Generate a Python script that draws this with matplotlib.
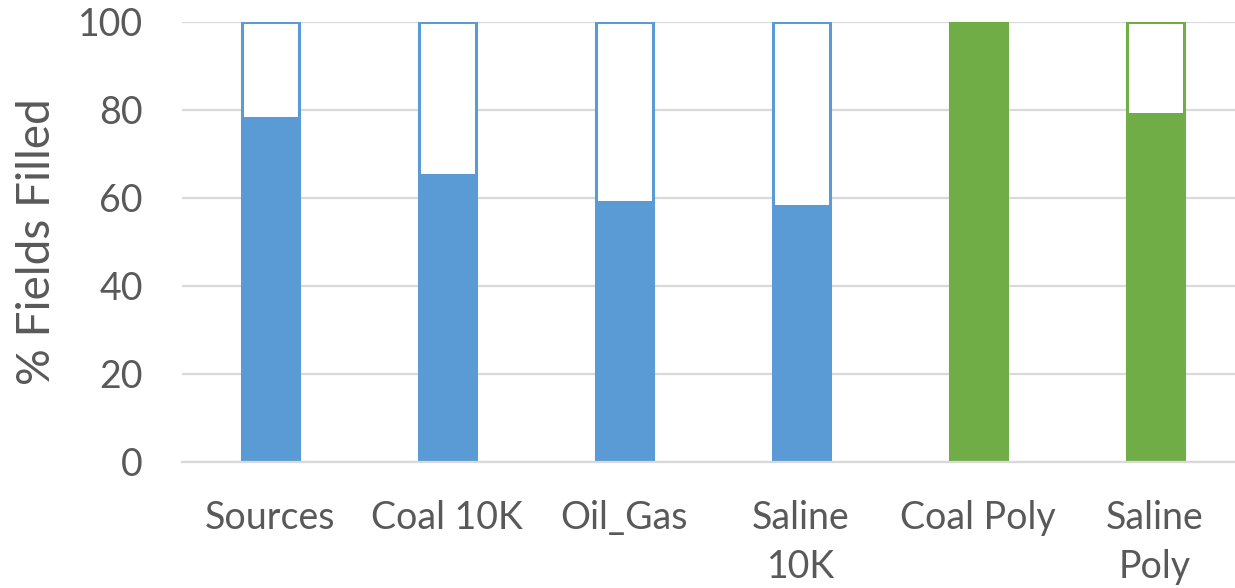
import matplotlib
matplotlib.use("Agg")
import matplotlib.pyplot as plt
import numpy as np

categories = ["Sources", "Coal 10K", "Oil_Gas", "Saline\n10K", "Coal Poly", "Saline\nPoly"]
filled = [78.4, 65.4, 59.4, 58.4, 100.0, 79.4]
capacity = [100, 100, 100, 100, 100, 100]
bar_colors = ["#5B9BD5", "#5B9BD5", "#5B9BD5", "#5B9BD5", "#70AD47", "#70AD47"]
yticks = [0, 20, 40, 60, 80, 100]

plt.rcParams["font.family"] = ["Lato", "DejaVu Sans"]
text_color = "#595959"

fig = plt.figure(figsize=(12.35, 5.88), dpi=100)
ax = fig.add_axes([0.147, 0.2143, 0.8599, 0.7483])

x = np.arange(len(categories))
width = 0.322

# Outline of full capacity, then the filled share
ax.bar(x, capacity, width=width, facecolor="white", edgecolor=bar_colors,
       linewidth=2.2, zorder=2)
ax.bar(x, filled, width=width + 0.008, color=bar_colors, linewidth=0, zorder=3)

ax.set_ylim(0, 100)
ax.set_xlim(-0.5, len(categories) - 0.5)
ax.set_yticks(yticks)
ax.set_xticks(x)
ax.set_xticklabels(categories, fontsize=27, color=text_color, linespacing=1.45)
ax.tick_params(axis="y", labelsize=27, labelcolor=text_color, length=0, pad=28)
ax.tick_params(axis="x", length=0, pad=27.5)
for lbl in ax.get_xticklabels():
    lbl.set_verticalalignment("top")

ax.yaxis.grid(True, color="#D9D9D9", linewidth=1.6, zorder=0)
ax.set_axisbelow(True)
ax.axhline(0, color="#D9D9D9", linewidth=1.6, zorder=4, clip_on=False)
for s in ax.spines.values():
    s.set_visible(False)

ax.set_ylabel("% Fields Filled", fontsize=33, color=text_color, labelpad=14)

fig.savefig("out.png", dpi=100)
